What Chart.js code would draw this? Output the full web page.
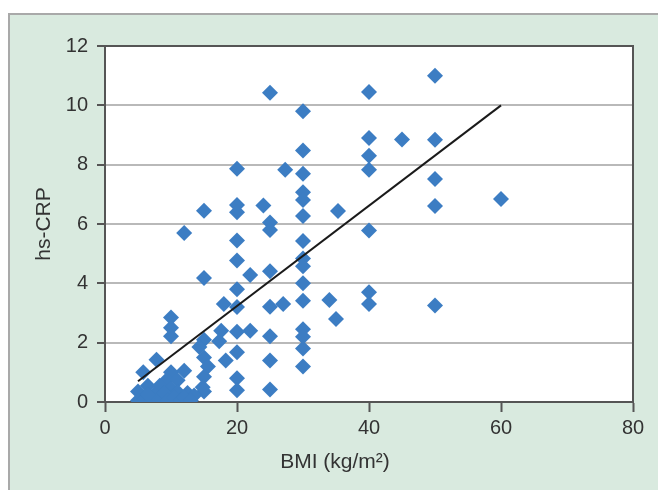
<!DOCTYPE html>
<html>
<head>
<meta charset="utf-8">
<script src="https://cdn.jsdelivr.net/npm/chart.js@4/dist/chart.umd.min.js"></script>
<style>
  html, body { margin: 0; padding: 0; background: #fff; }
  #panel {
    position: absolute; left: 8px; top: 13px; width: 650px; height: 477px;
    background: #d9eadf; border-top: 2px solid #a9a9a9; border-left: 2px solid #a9a9a9;
    box-sizing: border-box;
  }
  #myChart { position: absolute; left: 0; top: 0; }
</style>
</head>
<body>
<div id="panel"></div>
<canvas id="myChart" width="658" height="490"></canvas>
<script>
/* BMI per subject */
const bmi = [
  25, 30, 40, 50,
  30, 40, 45, 50, 40,
  20, 27.3, 30, 40, 50,
  30, 30, 60,
  15, 20, 20, 24, 30, 35.3, 50,
  25, 25, 12, 40,
  20, 30,
  20, 30, 30,
  22, 25, 15, 30,
  20, 40,
  18, 20, 25, 27, 30, 34, 40, 50,
  35,
  10, 10, 10,
  17.6, 20, 22, 25, 30, 30,
  15, 14.3, 17.3,
  30,
  20, 15, 15.6, 18.3, 25, 7.8,
  30,
  5.8, 10, 12,
  15, 20, 9.3, 11,
  20, 25, 15,
  5, 6.5, 8.3, 10, 11, 12.5, 13.5, 14.8,
  5, 6, 7, 7.5, 8.5, 9, 9.5, 10.5, 11.5, 12, 13, 6.5
];
/* hs-CRP per subject */
const hsCrp = [
  10.42, 9.8, 10.45, 11.0,
  8.48, 8.9, 8.85, 8.84, 8.3,
  7.86, 7.83, 7.69, 7.83, 7.52,
  7.07, 6.81, 6.84,
  6.45, 6.64, 6.4, 6.62, 6.27, 6.44, 6.61,
  6.05, 5.8, 5.7, 5.78,
  5.44, 5.43,
  4.77, 4.84, 4.58,
  4.28, 4.41, 4.18, 4.0,
  3.8, 3.7,
  3.3, 3.2, 3.21, 3.3, 3.41, 3.44, 3.3, 3.25,
  2.8,
  2.85, 2.5, 2.22,
  2.4, 2.37, 2.4, 2.22, 2.45, 2.2,
  2.1, 1.85, 2.05,
  1.8,
  1.68, 1.5, 1.2, 1.4, 1.4, 1.42,
  1.2,
  1.0, 1.0, 1.05,
  0.85, 0.8, 0.73, 0.73,
  0.4, 0.42, 0.35,
  0.35, 0.55, 0.55, 0.45, 0.34, 0.3, 0.22, 0.5,
  0.05, 0.1, 0.05, 0.25, 0.1, 0.3, 0.05, 0.15, 0.05, 0.15, 0.05, 0.25
];
/* regression line end points */
const fitBmi = [5, 60];
const fitCrp = [0.7, 10];

const xTitle = "BMI (kg/m²)";
const yTitle = "hs-CRP";

const textColor = "#333";
const axisColor = "#555";
const fontFamily = "'Liberation Sans', Arial, sans-serif";

const points = bmi.map((b, i) => ({ x: b, y: hsCrp[i] }));
const fit = fitBmi.map((b, i) => ({ x: b, y: fitCrp[i] }));

// white plot area, right/top frame and the x axis title
const plotFrame = {
  id: "plotFrame",
  beforeDraw(chart) {
    const { ctx, chartArea: a } = chart;
    ctx.save();
    ctx.fillStyle = "#fff";
    ctx.fillRect(a.left, a.top, a.right - a.left, a.bottom - a.top);
    ctx.restore();
  },
  afterDraw(chart) {
    const { ctx, chartArea: a } = chart;
    ctx.save();
    ctx.strokeStyle = axisColor;
    ctx.lineWidth = 2;
    ctx.beginPath();
    ctx.moveTo(a.left, a.top);
    ctx.lineTo(a.right, a.top);
    ctx.lineTo(a.right, a.bottom);
    ctx.stroke();
    ctx.fillStyle = textColor;
    ctx.font = "21px " + fontFamily;
    ctx.textAlign = "center";
    ctx.textBaseline = "middle";
    ctx.fillText(xTitle, 335, 462);
    ctx.restore();
  }
};

const ctx = document.getElementById("myChart").getContext("2d");
new Chart(ctx, {
  data: {
    datasets: [
      {
        type: "line",
        data: fit,
        borderColor: "#1a1a1a",
        borderWidth: 2,
        pointRadius: 0,
        fill: false,
        order: 0
      },
      {
        type: "scatter",
        data: points,
        pointStyle: "rectRot",
        pointRadius: 8,
        pointHoverRadius: 8,
        backgroundColor: "#3c7dc3",
        borderColor: "#3c7dc3",
        borderWidth: 0,
        order: 1
      }
    ]
  },
  options: {
    responsive: false,
    animation: false,
    devicePixelRatio: 1,
    layout: { padding: { top: 46, right: 25, left: 0, bottom: 0 } },
    plugins: { legend: { display: false }, tooltip: { enabled: false } },
    scales: {
      x: {
        type: "linear",
        min: 0, max: 80,
        ticks: { stepSize: 20, color: textColor, padding: 4, font: { size: 20, family: fontFamily } },
        grid: { drawOnChartArea: false, tickLength: 10, tickColor: axisColor, tickWidth: 2 },
        border: { color: axisColor, width: 2 },
        afterFit: s => { s.height = 88; }
      },
      y: {
        type: "linear",
        min: 0, max: 12,
        ticks: { stepSize: 2, color: textColor, padding: 9, font: { size: 20, family: fontFamily } },
        grid: {
          color: c => (c.tick && (c.tick.value === 0 || c.tick.value === 12)) ? "rgba(0,0,0,0)" : "#b9b9b9",
          lineWidth: 2, tickLength: 8, tickColor: axisColor, tickWidth: 2
        },
        border: { color: axisColor, width: 2 },
        title: { display: true, text: yTitle, color: textColor, font: { size: 21, family: fontFamily }, padding: { top: 32, bottom: 0 } },
        afterFit: s => { s.width = 105; }
      }
    }
  },
  plugins: [plotFrame]
});
</script>
</body>
</html>
